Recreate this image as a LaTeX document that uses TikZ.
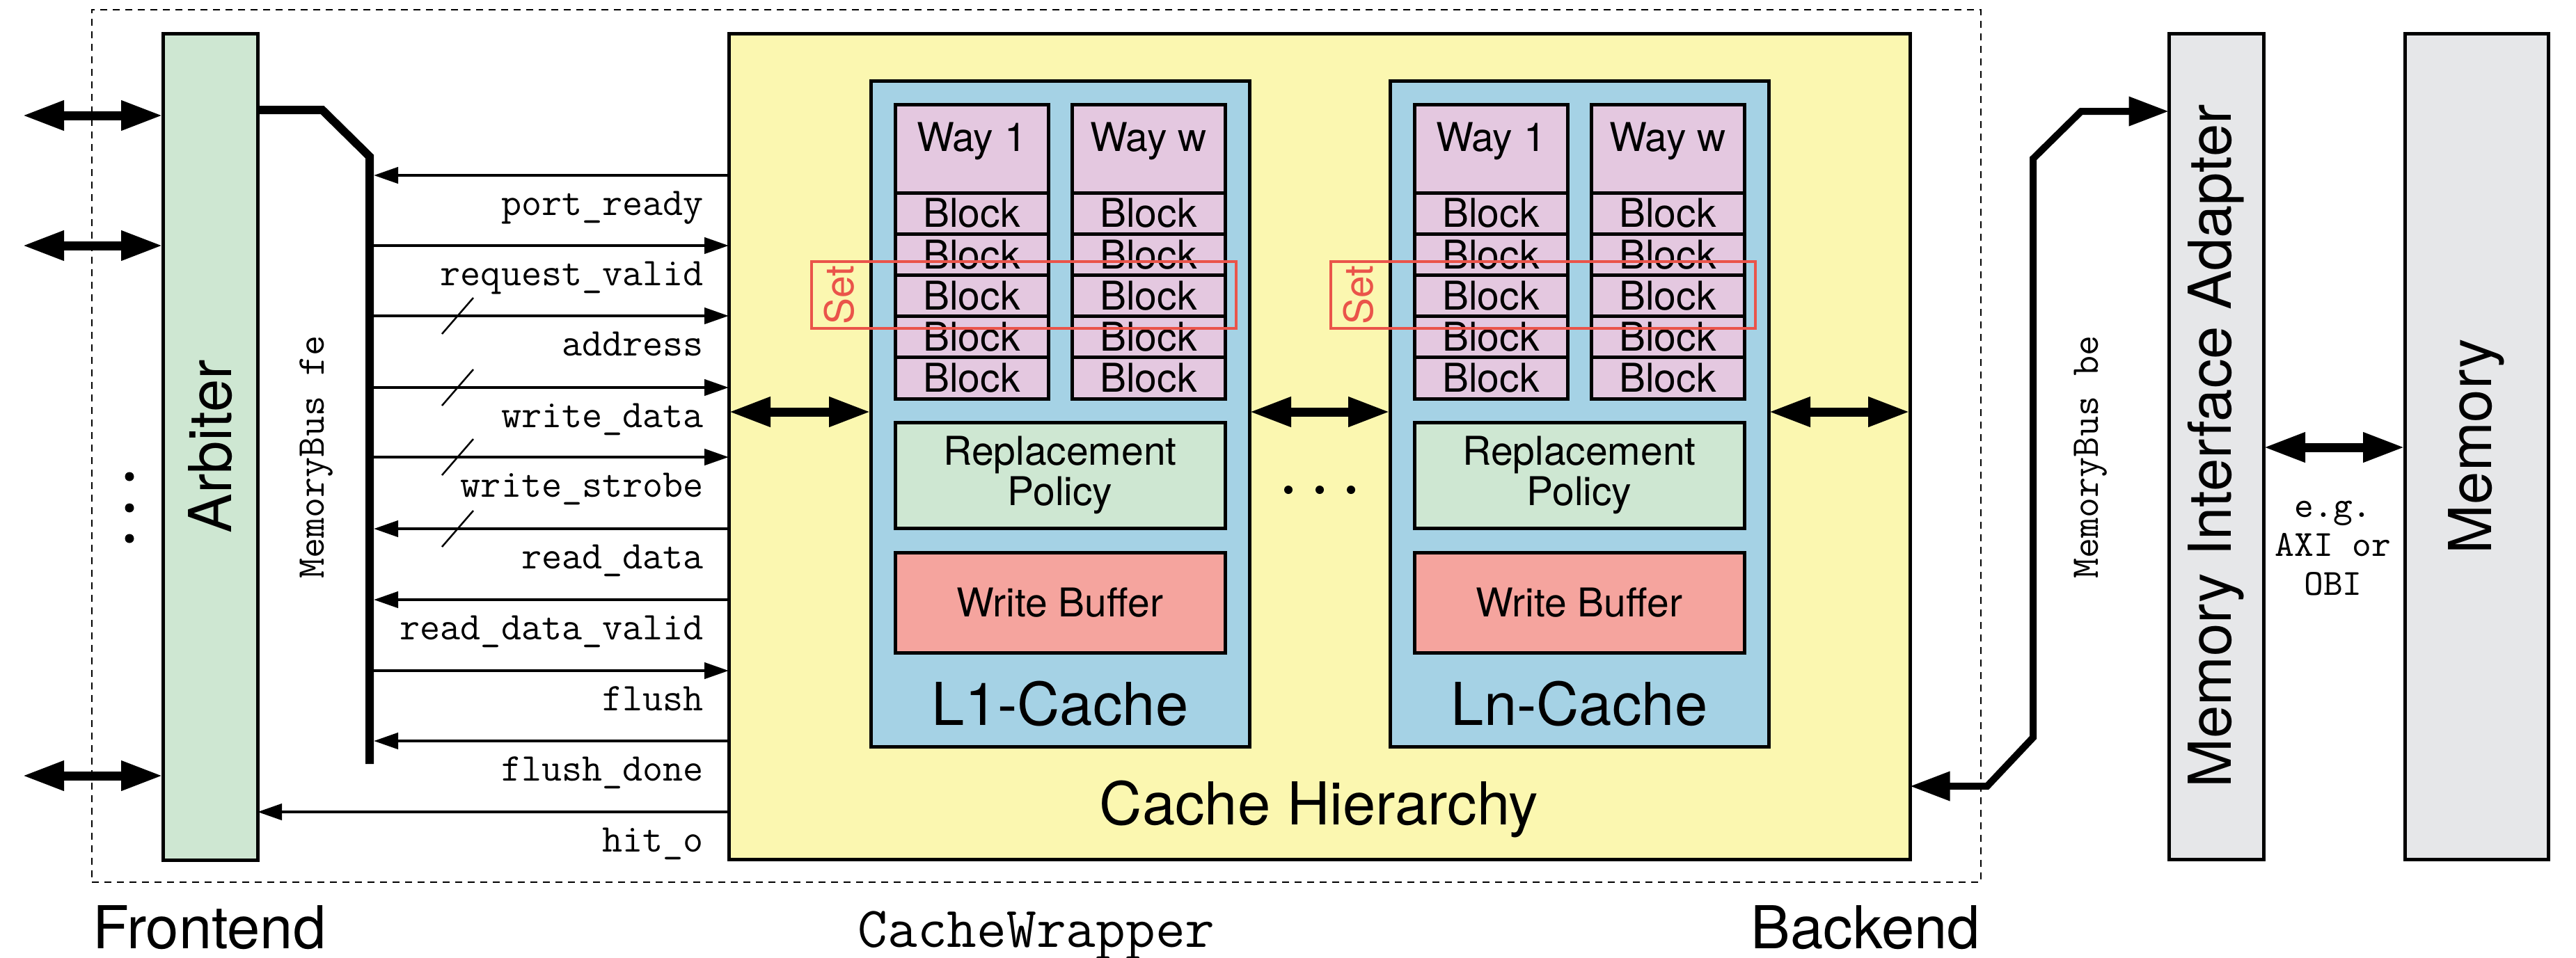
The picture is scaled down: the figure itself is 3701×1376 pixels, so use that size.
\documentclass[tikz,border=0pt]{standalone}
\usepackage{fontspec}
\setmainfont{TeX Gyre Heros}
\usetikzlibrary{arrows.meta,fit,calc}
\definecolor{cgreen}{RGB}{206,231,210}
\definecolor{cyellow}{RGB}{251,247,176}
\definecolor{cblue}{RGB}{165,210,229}
\definecolor{cpink}{RGB}{228,200,224}
\definecolor{cwbuf}{RGB}{245,164,158}
\definecolor{cgray}{RGB}{230,231,233}
\definecolor{cset}{RGB}{234,84,74}
\begin{document}
\begin{tikzpicture}[x=0.2pt,y=-0.2pt,
  box/.style={draw=black,line width=1pt,inner sep=0pt,outer sep=0pt},
  sig/.style={line width=0.9pt,-{Triangle[length=7pt,width=4.6pt]}},
  dbl/.style={line width=2.6pt,{Triangle[length=12pt,width=8pt]}-{Triangle[length=12pt,width=8pt]}},
  bus/.style={line width=2.4pt,line join=miter},
  bbus/.style={line width=2pt,line join=miter,{Triangle[length=11.5pt,width=8pt]}-{Triangle[length=11.5pt,width=8pt]}},
  slash/.style={line width=0.5pt},
  mono/.style={font=\fontsize{11.3}{13}\ttfamily,inner sep=0pt},
  siglbl/.style={mono,anchor=base east},
  small/.style={font=\fontsize{11.4}{11.6}\selectfont,inner sep=0pt},
  big/.style={font=\fontsize{17}{20}\selectfont,inner sep=0pt},
  dot/.style={fill=black,draw=none},
]
\useasboundingbox (0,0) rectangle (3701,1376);

% wrapper
\node[draw=black,dash pattern=on 2pt off 1.6pt,line width=0.4pt,inner sep=0pt,fit={(132,13.5) (2846,1268)}] (wrap) {};

% arbiter
\node[box,fill=cgreen,fit={(234,48) (370,1236)}] (arb) {};
\node[big,rotate=90] (arbt) at (arb.center) {Arbiter};

% cache hierarchy
\node[box,fill=cyellow,fit={(1047,48) (2744,1235)}] (yel) {};
\node[big,anchor=base] (yelt) at (1895,1185) {Cache Hierarchy};

% caches
\foreach \o/\c/\lbl in {0/a/L1-Cache,746/b/Ln-Cache}{
  \node[box,fill=cblue,fit={({1251+\o},116) ({1795+\o},1073)}] (cache\c) {};
  \node[big,anchor=base] (cache\c t) at ({1523+\o},1042) {\lbl};
  \foreach \wx/\wn/\wt in {1286/1/Way 1,1540/w/Way w}{
    \node[box,fill=cpink,fit={({\wx+\o},150) ({\wx+220+\o},277)}] (way\c\wn) {};
    \node[small,anchor=base] (way\c\wn t) at ({\wx+110+\o},217) {\wt};
    \foreach \i in {0,...,4}{
      \node[box,fill=cpink,fit={({\wx+\o},{277+59.2*\i}) ({\wx+220+\o},{336.2+59.2*\i})}] (blk\c\wn\i) {};
      \node[small] (blk\c\wn\i t) at (blk\c\wn\i.center) {Block};
    }
  }
  \node[box,fill=cgreen,fit={({1286+\o},607) ({1760+\o},759)}] (rp\c) {};
  \node[small,align=center] (rp\c t) at (rp\c.center) {Replacement\\Policy};
  \node[box,fill=cwbuf,fit={({1286+\o},794) ({1760+\o},938)}] (wb\c) {};
  \node[small] (wb\c t) at (wb\c.center) {Write Buffer};
  \node[draw=cset,line width=0.85pt,inner sep=0pt,fit={({1166+\o},376) ({1776+\o},472)}] (set\c) {};
  \node[small,rotate=90,text=cset] (set\c t) at ({1206+\o},424) {Set};
}

% ellipsis between caches
\foreach \x in {1851,1896,1941}{\fill[dot] (\x,704) circle[radius=1.2pt];}

% double arrows inside hierarchy
\coordinate (da) at (1500,592);
\draw[dbl] (da -| yel.west) -- (da -| cachea.west);
\draw[dbl] (da -| cachea.east) -- (da -| cacheb.west);
\draw[dbl] (da -| cacheb.east) -- (da -| yel.east);

% left ports
\foreach \y in {166,353,1115}{
  \coordinate (lp\y) at (32,\y);
  \draw[dbl] (lp\y) -- (lp\y -| arb.west);
}
\foreach \y in {685,730,774}{\fill[dot] (186,\y) circle[radius=1.3pt];}

% signals
\foreach \y in {353,454,557,657,964}{
  \coordinate (s\y) at (531,\y);
  \draw[sig] (s\y) -- (s\y -| yel.west);
}
\foreach \y in {252,760,862,1065}{
  \coordinate (s\y) at (537,\y);
  \draw[sig] (s\y -| yel.west) -- (s\y);
}
\coordinate (s1167) at (700,1167);
\draw[sig] (s1167 -| yel.west) -- (s1167 -| arb.east);

\foreach \y/\t in {252/port\_ready,353/request\_valid,454/address,557/write\_data,657/write\_strobe,760/read\_data,862/read\_data\_valid,964/flush,1065/flush\_done,1167/hit\_o}{
  \node[siglbl] (lbl\y) at (1012,{\y+57}) {\t};
}
\foreach \y in {454,557,657,760}{
  \draw[slash] (635,{\y+26}) -- (680,{\y-26});
}

% frontend bus
\coordinate (fb) at (463,158);
\draw[bus] (fb -| arb.east) -- (fb) -- (531,225) -- (531,1098);
\node[mono,rotate=90] (mbfe) at (455,657) {MemoryBus fe};

% memory interface adapter and memory
\node[box,fill=cgray,fit={(3116,48) (3252,1235)}] (mia) {};
\node[big,rotate=90] (miat) at (mia.center) {Memory Interface Adapter};
\node[box,fill=cgray,fit={(3455,48) (3661,1235)}] (mem) {};
\node[big,rotate=90] (memt) at (mem.center) {Memory};
\coordinate (mm) at (3350,643);
\draw[dbl] (mm -| mia.east) -- (mm -| mem.west);
\node[font=\fontsize{10.6}{11.2}\ttfamily,align=center,inner sep=0pt,anchor=base] (eg) at (3352,855) {e.g.\\AXI or\\OBI};

% backend bus
\coordinate (bA) at (2855,1130);
\coordinate (bB) at (2990,160);
\draw[bbus] (bA -| yel.east) -- (bA) -- (2921,1060) -- (2921,228) -- (bB) -- (bB -| mia.west);
\node[mono,rotate=90] (mbbe) at (3004,657) {MemoryBus be};

% bottom labels
\node[big,anchor=base west] (fe) at (132,1363) {Frontend};
\node[font=\fontsize{16.6}{20}\ttfamily,inner sep=0pt,anchor=base] (cw) at (1489,1361) {CacheWrapper};
\node[big,anchor=base east] (be) at (2846,1363) {Backend};
\end{tikzpicture}
\end{document}
